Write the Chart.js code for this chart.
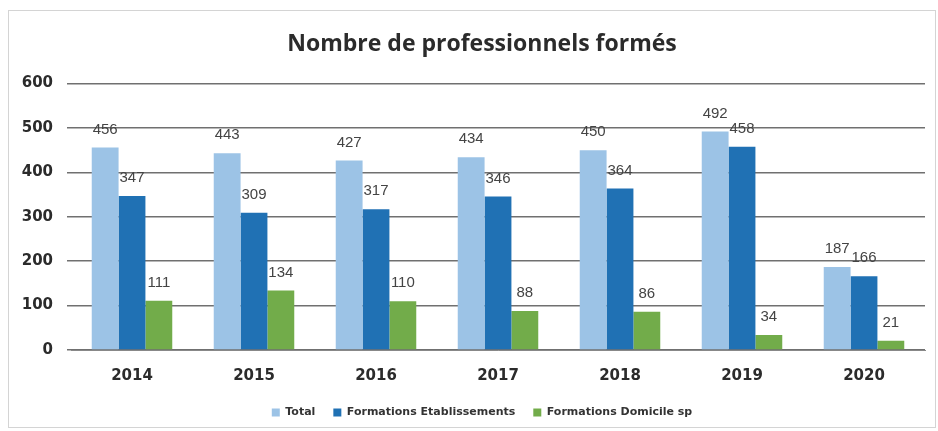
<!DOCTYPE html>
<html>
<head>
<meta charset="utf-8">
<script src="https://cdn.jsdelivr.net/npm/chart.js@4.4.1/dist/chart.umd.min.js"></script>
<style>
  html, body { margin: 0; padding: 0; background: #fff; }
  #chart { position: absolute; left: 0; top: 0; }
  #frame { position: absolute; left: 8px; top: 10px; width: 928px; height: 418px; border: 1px solid #d4d4d4; box-sizing: border-box; pointer-events: none; }
</style>
</head>
<body>
<canvas id="chart" width="938" height="431"></canvas>
<div id="frame"></div>
<script>
// --- data ---
const years = ['2014', '2015', '2016', '2017', '2018', '2019', '2020'];
const total = [456, 443, 427, 434, 450, 492, 187];
const etablissements = [347, 309, 317, 346, 364, 458, 166];
const domicile = [111, 134, 110, 88, 86, 34, 21];
const yTicks = [0, 100, 200, 300, 400, 500, 600];

// labels au-dessus des barres (pas de plugin datalabels dispo)
const barLabels = {
    id: 'barLabels',
    afterDatasetsDraw(chart) {
        const ctx = chart.ctx;
        ctx.save();
        ctx.font = "15px 'Liberation Sans', Arial, sans-serif";
        ctx.fillStyle = '#444';
        ctx.textAlign = 'center';
        ctx.textBaseline = 'middle';
        chart.data.datasets.forEach((ds, i) => {
            chart.getDatasetMeta(i).data.forEach((bar, j) => {
                ctx.fillText(ds.data[j], bar.x, bar.y - 18);
            });
        });
        ctx.restore();
    }
};

// l'axe Y est etroit (padding gauche pour decaler titre/legende), on elargit
// sa zone de clip pour que les labels ne soient pas coupes
const widenYAxis = {
    id: 'widenYAxis',
    afterLayout(chart) { chart.scales.y.left = 0; }
};

const tickFont = { family: "'DejaVu Sans', sans-serif", size: 15, weight: 'bold' };

new Chart(document.getElementById('chart'), {
    type: 'bar',
    data: {
        labels: years,
        datasets: [
            { label: 'Total', data: total, backgroundColor: '#9cc3e6' },
            { label: 'Formations Etablissements', data: etablissements, backgroundColor: '#2071b4' },
            { label: 'Formations Domicile sp', data: domicile, backgroundColor: '#72ac4a' }
        ]
    },
    options: {
        responsive: false,
        animation: false,
        layout: { padding: { left: 39, right: 13, top: 0, bottom: 3 } },
        datasets: { bar: { categoryPercentage: 0.66, barPercentage: 1.0 } },
        plugins: {
            title: {
                display: true,
                text: 'Nombre de professionnels formés',
                font: { family: "'Open Sans', sans-serif", size: 23, weight: 'bold' },
                color: '#2b2b2b',
                padding: { top: 31, bottom: 25 }
            },
            legend: {
                position: 'bottom',
                labels: {
                    boxWidth: 8, boxHeight: 8,
                    font: { family: "'DejaVu Sans', sans-serif", size: 11, weight: 'bold' },
                    color: '#333',
                    padding: 18
                }
            },
            tooltip: { enabled: false }
        },
        scales: {
            x: {
                afterFit: (axis) => { axis.height = 39; },
                grid: { display: false },
                border: { color: '#888' },
                ticks: { font: tickFont, color: '#2b2b2b', padding: 9 }
            },
            y: {
                min: 0, max: 600,
                afterBuildTicks: (axis) => { axis.ticks = yTicks.map(v => ({ value: v })); },
                afterFit: (axis) => { axis.width = 32; },
                grid: { color: '#707070', lineWidth: 1.5, drawTicks: true, tickLength: 4 },
                border: { display: false },
                ticks: { font: tickFont, color: '#2b2b2b', padding: 14 }
            }
        }
    },
    plugins: [barLabels, widenYAxis]
});
</script>
</body>
</html>
